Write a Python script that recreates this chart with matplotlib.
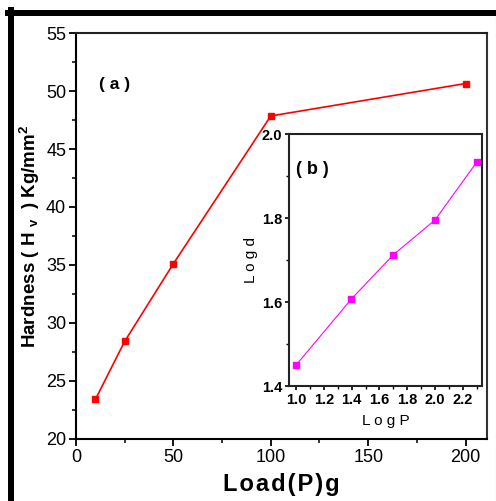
import matplotlib
matplotlib.use('Agg')
import matplotlib.pyplot as plt
import matplotlib.lines as mlines
from matplotlib.ticker import MultipleLocator

plt.rcParams['font.family'] = ['Liberation Sans', 'DejaVu Sans']
plt.rcParams['mathtext.default'] = 'regular'

# main curve: load vs hardness
load = [10, 25, 50, 100, 200]
hardness = [23.4, 28.4, 35.1, 47.85, 50.65]

# inset: log P vs log d
log_p = [1.0, 1.398, 1.699, 2.0, 2.301]
log_d = [1.45, 1.607, 1.712, 1.795, 1.933]

narrow = ['Liberation Sans Narrow', 'Liberation Sans', 'DejaVu Sans']

fig = plt.figure(figsize=(4.96, 5.01), dpi=100)

ax = fig.add_axes([0.153, 0.124, 0.829, 0.810])
ax.plot(load, hardness, color='red', lw=1.2, marker='s', ms=5,
        mec='red', mfc='red')
ax.set_xlim(0, 211)
ax.set_ylim(20, 55)
ax.xaxis.set_major_locator(MultipleLocator(50))
ax.xaxis.set_minor_locator(MultipleLocator(25))
ax.yaxis.set_major_locator(MultipleLocator(5))
ax.yaxis.set_minor_locator(MultipleLocator(2.5))
ax.tick_params(which='major', length=5, width=1.3, pad=2, labelsize=13)
ax.tick_params(which='minor', length=3, width=1.1)
for s in ax.spines.values():
    s.set_linewidth(1.5)
ax.spines['right'].set_color('#333333')
ax.spines['top'].set_color('#222222')

ax.set_xlabel('L\u200ao\u200aa\u200ad\u200a(\u200aP\u200a)\u200ag', fontsize=17,
              fontweight='bold', labelpad=5)
ax.set_ylabel('Hardness ( H $_v$  ) Kg/mm$^2$', fontsize=13.5, fontweight='bold',
              labelpad=3)
ax.text(12, 50.2, '( a )', fontsize=12.5, fontweight='bold')

# inset
ins = fig.add_axes([0.583, 0.2295, 0.389, 0.503])
ins.plot(log_p, log_d, color='magenta', lw=0.8, marker='s', ms=4.5,
         mec='magenta', mfc='magenta')
ins.set_xlim(0.95, 2.34)
ins.set_ylim(1.4, 2.0)
ins.xaxis.set_major_locator(MultipleLocator(0.2))
ins.xaxis.set_minor_locator(MultipleLocator(0.1))
ins.yaxis.set_major_locator(MultipleLocator(0.2))
ins.yaxis.set_minor_locator(MultipleLocator(0.1))
ins.tick_params(which='major', length=3, width=1.2, pad=2, labelsize=10.5)
ins.tick_params(which='minor', length=2, width=1)
for lab in ins.get_xticklabels() + ins.get_yticklabels():
    lab.set_family(narrow)
    lab.set_fontweight('bold')
for s in ins.spines.values():
    s.set_linewidth(1.5)
    s.set_color('#222222')
ins.set_xlabel('L o g P', fontsize=11, family=narrow, labelpad=5)
ins.set_ylabel('L o g d', fontsize=11, family=narrow, labelpad=3)
ins.text(1.0, 1.905, '( b )', fontsize=13, fontweight='bold')

# outer frame
fig.add_artist(mlines.Line2D([11 / 496, 11 / 496], [0, 1 - 10 / 501],
                             color='black', lw=4.3, transform=fig.transFigure))
fig.add_artist(mlines.Line2D([8 / 496, 1], [1 - 13 / 501, 1 - 13 / 501],
                             color='black', lw=4.3, transform=fig.transFigure))
fig.add_artist(mlines.Line2D([495.5 / 496, 495.5 / 496], [0, 1 - 16 / 501],
                             color='#cccccc', lw=0.8, transform=fig.transFigure))

fig.savefig('out.png', dpi=100)
